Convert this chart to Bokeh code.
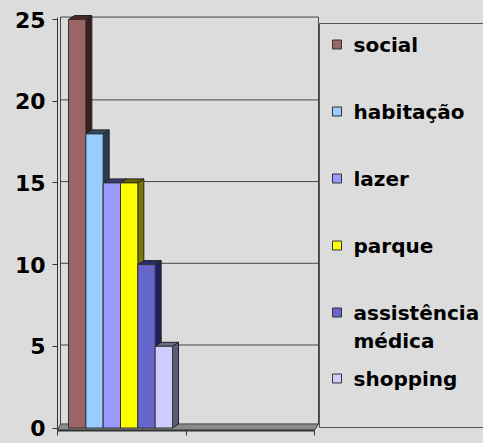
from bokeh.plotting import figure
from bokeh.models import ColumnDataSource, Range1d
from bokeh.core.properties import value
from bokeh.embed import file_html
from bokeh.resources import INLINE

# ---- data ----
categories = ["social", "habitação", "lazer", "parque", "assistência\nmédica", "shopping"]
values = [25, 18, 15, 15, 10, 5]
y_ticks = [0, 5, 10, 15, 20, 25]
x_ticks = [0, 1, 2]

# ---- styles ----
front_colors = ["#9c6464", "#99ccff", "#9999ff", "#ffff00", "#6666cc", "#ccccff"]
side_colors = ["#3a1e1e", "#243c55", "#2e2e66", "#7a7a00", "#20205e", "#5c5c7a"]
top_colors = ["#4a2828", "#2c4a66", "#3a3a77", "#666600", "#2a2a6a", "#6a6a88"]
BG = "#dcdcdc"
EDGE = "#333333"
FONT = "DejaVu Sans"

# calibration (reference pixels -> data units)
PX_X = 128.5
PX_Y = 16.34
X0_REF = 57.0
Y0_REF = 427.5


def rx(px):
    return (px - X0_REF) / PX_X


def ry(py):
    return (Y0_REF - py) / PX_Y


FRAME_W, FRAME_H = 426, 430

p = figure(frame_width=FRAME_W, frame_height=FRAME_H,
           x_range=Range1d(0, FRAME_W / PX_X), y_range=Range1d(ry(430), ry(0)),
           output_backend="svg", toolbar_location=None,
           min_border_left=57, min_border_right=0, min_border_top=0, min_border_bottom=13)
p.background_fill_color = BG
p.border_fill_color = BG
p.outline_line_color = None
p.grid.visible = False

# ---- walls / floor / gridlines ----
wall_l, wall_r = rx(60), rx(318)
wdy = 0.15
p.patch(x=[0, 2, wall_r, wall_l], y=[-0.15, -0.15, 0.25, 0.25],
        fill_color="#8a8a8a", line_color="#444444", line_width=1)
grid_vals = [v for v in y_ticks if 0 < v < 25]
p.segment(x0=[wall_l] * len(grid_vals), y0=[v + 0.08 for v in grid_vals],
          x1=[wall_r] * len(grid_vals), y1=[v + 0.08 for v in grid_vals],
          line_color="#444444", line_width=1)
top_border = y_ticks[-1] + wdy
p.segment(x0=[wall_l, wall_r, wall_l], y0=[top_border, 0.25, 0.25],
          x1=[wall_r, wall_r, wall_l], y1=[top_border, top_border, top_border],
          line_color="#444444", line_width=1)

# ---- 3D bars ----
start = rx(68)
w = (rx(172) - rx(68)) / len(values)
dx = 6 / PX_X
dy = 4 / PX_Y
lefts = [start + i * w for i in range(len(values))]
rights = [l + w for l in lefts]

side_xs = [[r, r + dx, r + dx, r] for r in rights]
side_ys = [[0, dy, v + dy, v] for v in values]
top_xs = [[l, r, r + dx, l + dx] for l, r in zip(lefts, rights)]
top_ys = [[v, v, v + dy, v + dy] for v in values]

p.patches(xs=side_xs, ys=side_ys, fill_color=side_colors, line_color="#222222", line_width=1)
p.patches(xs=top_xs, ys=top_ys, fill_color=top_colors, line_color="#222222", line_width=1)
src = ColumnDataSource(dict(left=lefts, right=rights, top=values, bottom=[0] * len(values),
                            color=front_colors))
p.quad(left="left", right="right", top="top", bottom="bottom", fill_color="color",
       line_color=EDGE, line_width=1, source=src)

# ---- legend (manual) ----
p.quad(left=[rx(319)], right=[rx(520)], bottom=[ry(427)], top=[ry(23)],
       fill_color=BG, line_color="#555555", line_width=1)
item_y = [44, 111, 178, 245, 312, 378]
line_gap = 28
p.scatter(x=[rx(336.5)] * len(categories), y=[ry(v) for v in item_y], marker="square",
          size=9, fill_color=front_colors, line_color=EDGE, line_width=1)
tx, ty, tt = [], [], []
for yc, lab in zip(item_y, categories):
    for k, line in enumerate(lab.split("\n")):
        tx.append(rx(353))
        ty.append(ry(yc + k * line_gap))
        tt.append(line)
p.text(x=tx, y=ty, text=tt, text_font=value(FONT), text_font_style="bold",
       text_font_size="20px", text_baseline="middle", text_align="left", text_color="#000000")

# ---- axes ----
p.yaxis.ticker = y_ticks
p.yaxis.bounds = (ry(430), ry(17))
p.yaxis.major_label_text_font = FONT
p.yaxis.major_label_text_font_style = "bold"
p.yaxis.major_label_text_font_size = "22px"
p.yaxis.major_label_text_color = "#000000"
p.yaxis.major_label_standoff = 7
p.yaxis.major_tick_out = 5
p.yaxis.major_tick_in = 0
p.yaxis.minor_tick_line_color = None
p.yaxis.axis_line_color = EDGE
p.yaxis.major_tick_line_color = EDGE

p.xaxis.ticker = x_ticks
p.xaxis.bounds = (0, 2)
p.xaxis.major_label_overrides = {t: "" for t in x_ticks}
p.xaxis.major_label_standoff = 0
p.xaxis.major_tick_out = 5
p.xaxis.major_tick_in = 0
p.xaxis.minor_tick_line_color = None
p.xaxis.axis_line_color = EDGE
p.xaxis.axis_line_width = 2
p.xaxis.major_tick_line_color = EDGE

html = file_html(p, INLINE, title="chart")
html = html.replace("<head>", "<head><style>html,body{background:%s;}</style>" % BG, 1)
open("out.html", "w").write(html)
